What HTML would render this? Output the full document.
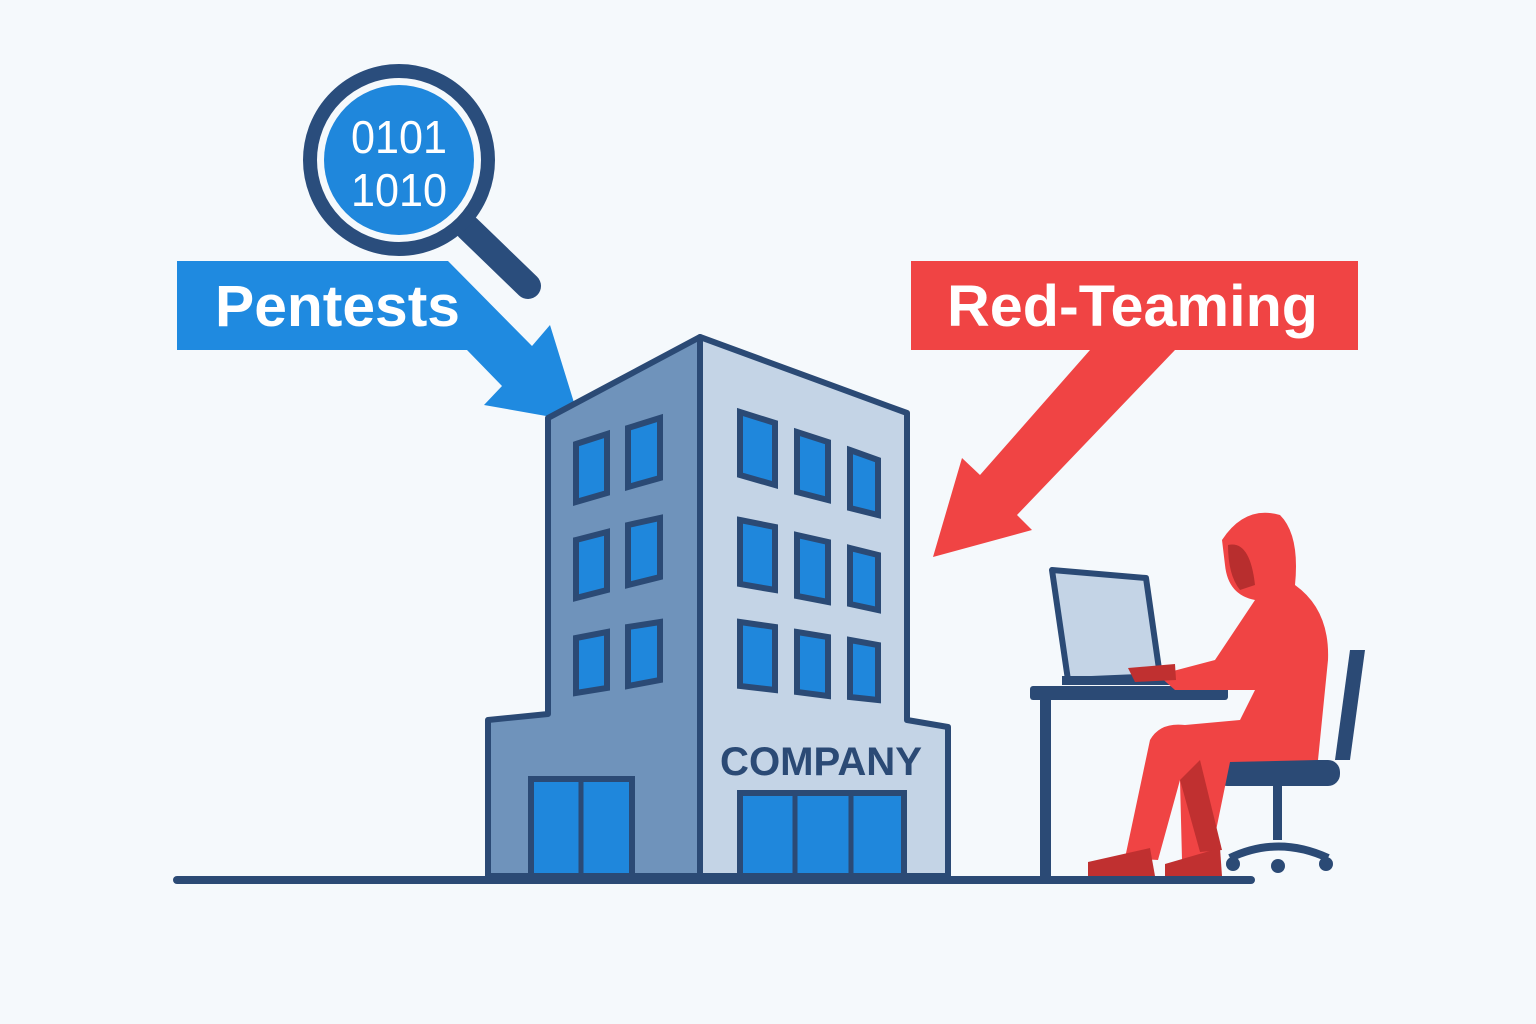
<!DOCTYPE html>
<html><head><meta charset="utf-8"><style>
html,body{margin:0;padding:0;background:#f5f9fc;}
svg{display:block}
</style></head><body>
<svg width="1536" height="1024" viewBox="0 0 1536 1024" xmlns="http://www.w3.org/2000/svg">
<rect width="1536" height="1024" fill="#f5f9fc"/>
<!-- magnifier -->
<line x1="468" y1="228" x2="528" y2="286" stroke="#2a4d7c" stroke-width="26" stroke-linecap="round"/>
<circle cx="399" cy="160" r="89" fill="#f5f9fc" stroke="#2a4d7c" stroke-width="14"/>
<circle cx="399" cy="160" r="75" fill="#1f87dc"/>
<text x="351" y="153" textLength="96" lengthAdjust="spacingAndGlyphs" font-family="Liberation Sans, sans-serif" font-size="46" fill="#fff">0101</text>
<text x="351" y="206" textLength="96" lengthAdjust="spacingAndGlyphs" font-family="Liberation Sans, sans-serif" font-size="46" fill="#fff">1010</text>
<!-- Pentests banner + arrow -->
<polygon points="177,261 448,261 532,346 550,325 580,422 484,405 502,386 467,350 177,350" fill="#1f8ae0"/>
<text x="215" y="326" textLength="245" lengthAdjust="spacingAndGlyphs" font-family="Liberation Sans, sans-serif" font-weight="bold" font-size="58" fill="#fff">Pentests</text>
<!-- Red-Teaming banner + arrow -->
<polygon points="911,261 1358,261 1358,350 1175,350 1017,515 1032,530 933,557 962,458 980,475 1090,350 911,350" fill="#f04444"/>
<text x="947" y="326" textLength="371" lengthAdjust="spacingAndGlyphs" font-family="Liberation Sans, sans-serif" font-weight="bold" font-size="58" fill="#fff">Red-Teaming</text>
<!-- building -->
<polygon points="548,418 700,337 700,876 488,876 488,720 548,714" fill="#6f93bb" stroke="#2b4a75" stroke-width="6" stroke-linejoin="round"/>
<polygon points="700,337 907,413 907,720 948,727 948,876 700,876" fill="#c4d4e6" stroke="#2b4a75" stroke-width="6" stroke-linejoin="round"/>
<g fill="#1f87dc" stroke="#2b4a75" stroke-width="6">
<polygon points="576,444 607,434 607,493 576,502"/>
<polygon points="628,428 660,418 660,478 628,487"/>
<polygon points="576,540 607,532 607,590 576,598"/>
<polygon points="628,525 660,518 660,577 628,585"/>
<polygon points="576,638 607,632 607,688 576,693"/>
<polygon points="628,627 660,622 660,680 628,686"/>
<polygon points="740,412 775,423 775,485 740,475"/>
<polygon points="797,432 828,442 828,500 797,492"/>
<polygon points="850,450 878,460 878,515 850,508"/>
<polygon points="740,520 775,527 775,590 740,584"/>
<polygon points="797,535 828,542 828,602 797,596"/>
<polygon points="850,548 878,555 878,610 850,604"/>
<polygon points="740,622 775,627 775,690 740,686"/>
<polygon points="797,632 828,637 828,696 797,692"/>
<polygon points="850,640 878,645 878,700 850,697"/>
<rect x="531" y="779" width="101" height="97"/>
<rect x="740" y="793" width="164" height="83"/>
</g>
<line x1="581" y1="782" x2="581" y2="876" stroke="#2b4a75" stroke-width="5"/>
<line x1="795" y1="796" x2="795" y2="876" stroke="#2b4a75" stroke-width="5"/>
<line x1="851" y1="796" x2="851" y2="876" stroke="#2b4a75" stroke-width="5"/>
<text x="720" y="775" textLength="202" lengthAdjust="spacingAndGlyphs" font-family="Liberation Sans, sans-serif" font-weight="bold" font-size="40" fill="#2b4a75">COMPANY</text>
<!-- ground -->
<line x1="177" y1="880" x2="1251" y2="880" stroke="#2b4a75" stroke-width="8" stroke-linecap="round"/>
<!-- desk -->
<rect x="1030" y="686" width="198" height="14" rx="3" fill="#2b4a75"/>
<rect x="1040" y="698" width="11" height="180" fill="#2b4a75"/>
<!-- laptop -->
<polygon points="1052,570 1146,578 1160,676 1068,680" fill="#c4d4e6" stroke="#2b4a75" stroke-width="6" stroke-linejoin="round"/>
<rect x="1062" y="676" width="112" height="9" fill="#2b4a75"/>
<!-- chair -->
<path d="M1350,650 L1365,650 L1350,760 L1335,760 Z" fill="#2b4a75"/>
<rect x="1215" y="760" width="125" height="26" rx="12" fill="#2b4a75"/>
<rect x="1273" y="785" width="9" height="55" fill="#2b4a75"/>
<path d="M1230,858 Q1278,835 1328,858" stroke="#2b4a75" stroke-width="8" fill="none"/>
<circle cx="1233" cy="864" r="7" fill="#2b4a75"/><circle cx="1278" cy="866" r="7" fill="#2b4a75"/><circle cx="1326" cy="864" r="7" fill="#2b4a75"/>
<!-- person -->
<path d="M1222,540 Q1245,505 1280,515 Q1300,535 1295,585 Q1330,610 1328,660 L1318,760 L1230,762 L1210,860 L1182,860 L1180,780 L1158,860 L1125,858 L1150,740 Q1160,722 1185,725 L1240,720 L1255,690 L1175,690 L1158,675 L1215,660 L1255,600 Q1228,595 1225,565 Z" fill="#f04444"/>
<path d="M1228,545 Q1250,540 1255,585 L1240,590 Q1228,575 1228,545 Z" fill="#b82e2e"/>
<path d="M1180,780 L1200,760 L1222,850 L1200,852 Z" fill="#c03030"/>
<path d="M1088,862 L1150,848 L1155,876 L1088,876 Z" fill="#c03030"/>
<path d="M1165,864 L1220,848 L1222,876 L1165,876 Z" fill="#c03030"/>
<path d="M1128,668 L1175,664 L1176,680 L1135,682 Z" fill="#c03030"/>
</svg>
</body></html>
